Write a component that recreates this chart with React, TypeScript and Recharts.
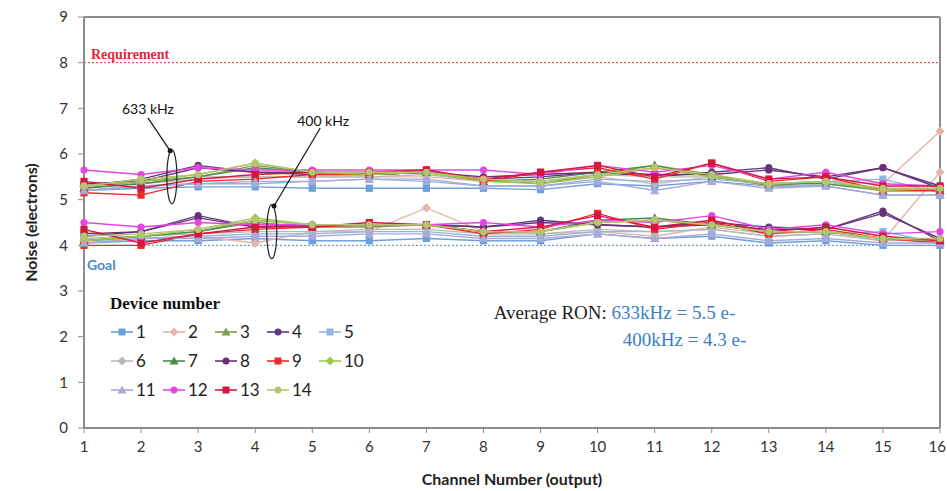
import React from 'react';
import { LineChart, Line, XAxis, YAxis, ReferenceLine, ReferenceDot } from 'recharts';

const channels = [1, 2, 3, 4, 5, 6, 7, 8, 9, 10, 11, 12, 13, 14, 15, 16];
const yTicks = [0, 1, 2, 3, 4, 5, 6, 7, 8, 9];
const deviceNames = ['1', '2', '3', '4', '5', '6', '7', '8', '9', '10', '11', '12', '13', '14'];
const deviceColors = ['#6f9fd8', '#e3b5a8', '#7f9a4f', '#5b3a7e', '#8fb4de', '#b8b8b8', '#4f8a4a', '#6b2f7a', '#ee2a2a', '#9cc94a', '#a9a9da', '#e645e6', '#d4173f', '#b5c46e'];
const deviceMarkers = ['square', 'diamond', 'triangle', 'circle', 'square', 'diamond', 'triangle', 'circle', 'square', 'diamond', 'triangle', 'circle', 'square', 'circle'];

// 633 kHz readout noise per device (rows) and channel (columns)
const noise633 = [
  [5.2, 5.25, 5.28, 5.28, 5.25, 5.25, 5.25, 5.25, 5.22, 5.35, 5.3, 5.4, 5.3, 5.3, 5.1, 5.1],
  [5.3, 5.35, 5.45, 5.5, 5.5, 5.5, 5.5, 5.4, 5.4, 5.5, 5.35, 5.5, 5.3, 5.4, 5.35, 6.5],
  [5.25, 5.4, 5.5, 5.75, 5.6, 5.55, 5.6, 5.45, 5.35, 5.55, 5.75, 5.55, 5.3, 5.4, 5.2, 5.2],
  [5.3, 5.45, 5.75, 5.6, 5.6, 5.55, 5.6, 5.45, 5.5, 5.6, 5.5, 5.6, 5.7, 5.45, 5.7, 5.25],
  [5.2, 5.3, 5.35, 5.35, 5.4, 5.45, 5.4, 5.3, 5.3, 5.45, 5.4, 5.45, 5.35, 5.4, 5.45, 5.15],
  [5.3, 5.35, 5.5, 5.5, 5.5, 5.5, 5.55, 5.4, 5.4, 5.55, 5.5, 5.5, 5.35, 5.4, 5.25, 5.2],
  [5.25, 5.35, 5.5, 5.7, 5.6, 5.55, 5.6, 5.4, 5.45, 5.6, 5.75, 5.5, 5.35, 5.35, 5.2, 5.2],
  [5.35, 5.4, 5.7, 5.6, 5.55, 5.55, 5.6, 5.5, 5.55, 5.6, 5.55, 5.55, 5.65, 5.5, 5.7, 5.3],
  [5.15, 5.1, 5.4, 5.45, 5.55, 5.55, 5.65, 5.4, 5.6, 5.7, 5.45, 5.8, 5.4, 5.5, 5.2, 5.2],
  [5.3, 5.4, 5.55, 5.8, 5.6, 5.55, 5.6, 5.4, 5.35, 5.5, 5.7, 5.5, 5.35, 5.4, 5.2, 5.25],
  [5.2, 5.3, 5.35, 5.4, 5.4, 5.45, 5.45, 5.3, 5.3, 5.4, 5.2, 5.4, 5.25, 5.3, 5.1, 5.1],
  [5.65, 5.55, 5.7, 5.65, 5.65, 5.65, 5.65, 5.65, 5.55, 5.75, 5.6, 5.75, 5.45, 5.6, 5.35, 5.3],
  [5.4, 5.25, 5.45, 5.55, 5.6, 5.6, 5.65, 5.45, 5.6, 5.75, 5.5, 5.8, 5.45, 5.5, 5.3, 5.3],
  [5.3, 5.45, 5.55, 5.8, 5.6, 5.6, 5.6, 5.45, 5.4, 5.55, 5.7, 5.55, 5.35, 5.4, 5.25, 5.25],
];

// 400 kHz readout noise per device (rows) and channel (columns)
const noise400 = [
  [4.05, 4.1, 4.1, 4.15, 4.1, 4.1, 4.15, 4.1, 4.1, 4.25, 4.15, 4.2, 4.05, 4.1, 4.0, 4.0],
  [4.3, 4.15, 4.2, 4.05, 4.3, 4.3, 4.82, 4.3, 4.25, 4.3, 4.2, 4.4, 4.25, 4.3, 4.1, 5.6],
  [4.1, 4.2, 4.3, 4.5, 4.4, 4.4, 4.45, 4.3, 4.3, 4.5, 4.55, 4.45, 4.3, 4.3, 4.15, 4.1],
  [4.2, 4.3, 4.65, 4.4, 4.45, 4.45, 4.45, 4.4, 4.55, 4.45, 4.4, 4.5, 4.4, 4.35, 4.75, 4.1],
  [4.1, 4.15, 4.2, 4.25, 4.25, 4.3, 4.3, 4.2, 4.2, 4.3, 4.3, 4.35, 4.2, 4.25, 4.3, 4.05],
  [4.15, 4.2, 4.25, 4.3, 4.3, 4.35, 4.35, 4.25, 4.25, 4.35, 4.3, 4.35, 4.2, 4.25, 4.1, 4.15],
  [4.1, 4.2, 4.3, 4.55, 4.45, 4.45, 4.45, 4.3, 4.3, 4.55, 4.6, 4.45, 4.3, 4.3, 4.15, 4.1],
  [4.25, 4.3, 4.6, 4.4, 4.45, 4.45, 4.45, 4.4, 4.5, 4.45, 4.4, 4.45, 4.35, 4.35, 4.7, 4.15],
  [4.0, 4.0, 4.25, 4.35, 4.4, 4.45, 4.45, 4.25, 4.35, 4.7, 4.35, 4.5, 4.25, 4.35, 4.15, 4.05],
  [4.1, 4.2, 4.35, 4.6, 4.45, 4.45, 4.45, 4.3, 4.3, 4.5, 4.55, 4.45, 4.3, 4.3, 4.15, 4.1],
  [4.05, 4.15, 4.15, 4.2, 4.2, 4.25, 4.25, 4.15, 4.15, 4.25, 4.15, 4.25, 4.1, 4.15, 4.05, 4.05],
  [4.5, 4.4, 4.5, 4.45, 4.45, 4.45, 4.45, 4.5, 4.4, 4.55, 4.5, 4.65, 4.35, 4.45, 4.25, 4.3],
  [4.35, 4.05, 4.25, 4.4, 4.4, 4.5, 4.45, 4.3, 4.4, 4.65, 4.4, 4.55, 4.3, 4.4, 4.2, 4.1],
  [4.2, 4.25, 4.35, 4.55, 4.45, 4.45, 4.45, 4.3, 4.3, 4.5, 4.55, 4.45, 4.3, 4.3, 4.15, 4.15],
];

const requirement = 8;
const goal = 4;

const chartData = channels.map((ch, j) => {
  const row: Record<string, number> = { ch };
  noise633.forEach((vals, i) => { row[`a${i}`] = vals[j]; });
  noise400.forEach((vals, i) => { row[`b${i}`] = vals[j]; });
  return row;
});

const AXIS = '#8c8c8c';
const SANS = 'Lato, "Open Sans", sans-serif';
const SERIF = '"Liberation Serif", "DejaVu Serif", serif';

function markerShape(shape: string, color: string, cx: number, cy: number, s: number, key?: string) {
  if (shape === 'square') return <rect key={key} x={cx - s} y={cy - s} width={2 * s} height={2 * s} fill={color} />;
  if (shape === 'diamond') return <polygon key={key} points={`${cx},${cy - s - 1} ${cx + s + 1},${cy} ${cx},${cy + s + 1} ${cx - s - 1},${cy}`} fill={color} />;
  if (shape === 'triangle') return <polygon key={key} points={`${cx},${cy - s - 1} ${cx + s + 1},${cy + s} ${cx - s - 1},${cy + s}`} fill={color} />;
  return <circle key={key} cx={cx} cy={cy} r={s} fill={color} />;
}

const makeDot = (shape: string, color: string, tag: string) => (props: any) => {
  const { cx, cy, index } = props;
  if (cx == null || cy == null) return <g key={`${tag}-${index}`} />;
  return markerShape(shape, color, cx, cy, 3.6, `${tag}-${index}`);
};

const XTick = (props: any) => {
  const { x, y, payload, index, visibleTicksCount } = props;
  const last = index === (visibleTicksCount || channels.length) - 1;
  return (
    <text x={x} y={y} dy={12} textAnchor={last ? 'end' : 'middle'} dx={last ? 6 : 0}
      fontFamily={SANS} fontSize={15} fill="#333">{payload.value}</text>
  );
};

const YLabel = (props: any) => {
  const vb = props.viewBox || {};
  const cx = (vb.x || 0) + 30;
  const cy = (vb.y || 0) + (vb.height || 0) / 2;
  return (
    <text x={cx} y={cy} transform={`rotate(-90 ${cx} ${cy})`} textAnchor="middle" dominantBaseline="central"
      fontFamily={SANS} fontWeight={700} fontSize={16} fill="#222">Noise (electrons)</text>
  );
};

const ReqLabel = (props: any) => {
  const vb = props.viewBox || {};
  return <text x={(vb.x || 0) + 7} y={(vb.y || 0) - 4} fontFamily={SERIF} fontWeight={700} fontSize={14} fill="#e0283c">Requirement</text>;
};

const GoalLabel = (props: any) => {
  const vb = props.viewBox || {};
  return <text x={(vb.x || 0) + 3} y={(vb.y || 0) + 25} fontFamily={SANS} fontWeight={700} fontSize={14} fill="#4a8ac8">Goal</text>;
};

const Ellipse = (props: any) => (
  <ellipse cx={props.cx} cy={props.cy} rx={5} ry={27} fill="none" stroke="#222" strokeWidth={1.2} />
);

const SmallDot = (props: any) => <circle cx={props.cx} cy={props.cy} r={2.5} fill="#111" />;

const labelText = (txt: string) => (props: any) => (
  <text x={props.cx} y={props.cy} textAnchor="middle" dominantBaseline="central" fontFamily={SANS} fontSize={14} fill="#111">{txt}</text>
);

const AvgText = (props: any) => (
  <g>
    <text x={props.cx} y={props.cy} fontFamily={SERIF} fontSize={19} fill="#222">
      Average RON: <tspan fill="#3a80c4">633kHz = 5.5 e-</tspan>
    </text>
    <text x={props.cx + 129} y={props.cy + 27} fontFamily={SERIF} fontSize={19} fill="#3a80c4">400kHz = 4.3 e-</text>
  </g>
);

const LegendOverlay = () => (
  <div style={{ position: 'absolute', left: 110, top: 294, width: 300, height: 110, pointerEvents: 'none' }}>
    <div style={{ fontFamily: SERIF, fontWeight: 700, fontSize: 17, color: '#111', lineHeight: '20px' }}>Device number</div>
    {deviceNames.map((name, i) => {
      const col = i % 5;
      const row = Math.floor(i / 5);
      return (
        <div key={name} style={{ position: 'absolute', left: col * 52, top: 28 + row * 29, display: 'flex', alignItems: 'center', height: 20 }}>
          <svg width={24} height={14} style={{ display: 'block' }}>
            <line x1={1} y1={7} x2={23} y2={7} stroke={deviceColors[i]} strokeWidth={1.6} />
            {markerShape(deviceMarkers[i], deviceColors[i], 12, 7, 3.5)}
          </svg>
          <span style={{ fontFamily: SANS, fontSize: 17, color: '#222', marginLeft: 2, lineHeight: '20px' }}>{name}</span>
        </div>
      );
    })}
  </div>
);

export default function App() {
  return (
    <div style={{ position: 'absolute', left: 0, top: 0, width: 947, height: 491, background: '#fff' }}>
      <LineChart width={947} height={491} data={chartData} margin={{ top: 17, right: 7, bottom: 0, left: 0 }}>
        <XAxis dataKey="ch" type="number" domain={[1, 16]} ticks={channels} interval={0}
          height={63} tickSize={5} tickMargin={7}
          axisLine={{ stroke: AXIS, strokeWidth: 2 }} tickLine={{ stroke: AXIS }}
          tick={<XTick />}
          label={{ value: 'Channel Number (output)', position: 'insideBottom', offset: 6, fontFamily: SANS, fontWeight: 700, fontSize: 16, fill: '#222' }} />
        <YAxis type="number" domain={[0, 9]} ticks={yTicks} interval={0} width={84}
          tickSize={6} tickMargin={10}
          axisLine={{ stroke: AXIS, strokeWidth: 2 }} tickLine={{ stroke: AXIS }}
          tick={{ fontFamily: SANS, fontSize: 15, fill: '#333' }}
          label={<YLabel />} />
        <ReferenceLine y={9} stroke={AXIS} strokeWidth={2} />
        <ReferenceLine x={16} stroke={AXIS} strokeWidth={2} />
        <ReferenceLine y={requirement} stroke="#e0283c" strokeDasharray="2 2" strokeWidth={1} label={<ReqLabel />} />
        <ReferenceLine y={goal} stroke="#4a8ac8" strokeDasharray="2 2" strokeWidth={1} label={<GoalLabel />} />
        {noise400.map((_, i) => (
          <Line key={`b${i}`} dataKey={`b${i}`} stroke={deviceColors[i]} strokeWidth={1.4} isAnimationActive={false}
            dot={makeDot(deviceMarkers[i], deviceColors[i], `b${i}`)} activeDot={false} legendType="none" />
        ))}
        {noise633.map((_, i) => (
          <Line key={`a${i}`} dataKey={`a${i}`} name={deviceNames[i]} stroke={deviceColors[i]} strokeWidth={1.4} isAnimationActive={false}
            dot={makeDot(deviceMarkers[i], deviceColors[i], `a${i}`)} activeDot={false} />
        ))}
        <ReferenceLine segment={[{ x: 2.12, y: 6.79 }, { x: 2.51, y: 6.07 }]} stroke="#111" strokeWidth={1.2} />
        <ReferenceDot x={2.51} y={6.07} shape={SmallDot} />
        <ReferenceDot x={2.54} y={5.5} shape={Ellipse} />
        <ReferenceDot x={2.12} y={7.0} shape={labelText('633 kHz')} />
        <ReferenceLine segment={[{ x: 5.14, y: 6.57 }, { x: 4.33, y: 4.86 }]} stroke="#111" strokeWidth={1.2} />
        <ReferenceDot x={4.33} y={4.86} shape={SmallDot} />
        <ReferenceDot x={4.29} y={4.3} shape={Ellipse} />
        <ReferenceDot x={5.19} y={6.74} shape={labelText('400 kHz')} />
        <ReferenceDot x={8.18} y={2.39} shape={AvgText} />
      </LineChart>
      <LegendOverlay />
    </div>
  );
}
